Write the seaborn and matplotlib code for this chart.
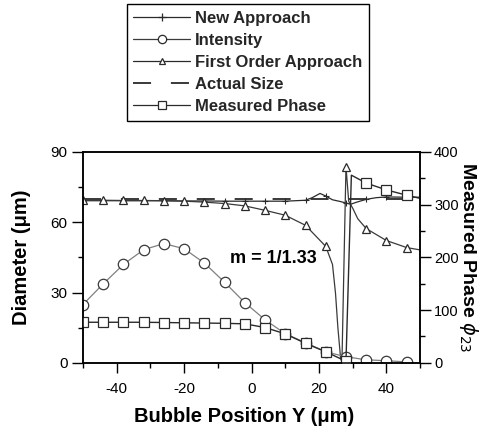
import matplotlib
matplotlib.use("Agg")
import matplotlib.pyplot as plt
from matplotlib.ticker import MultipleLocator
from matplotlib.lines import Line2D
import seaborn as sns

# ---------------- data ----------------
mark_x = [-50, -44, -38, -32, -26, -20, -14, -8, -2, 4, 10, 16, 22, 28, 34, 40, 46]

new_x = [-50, -44, -38, -32, -26, -20, -14, -8, -2, 4, 10, 16, 18, 20.3, 22, 24,
         26.5, 28, 29.4, 31, 34, 37, 40, 46, 50]
new_y = [69.2, 69.2, 69.2, 69.2, 69.2, 69.1, 69.1, 69.0, 69.0, 69.0, 69.0, 69.4, 70.5,
         72.3, 71.2, 69.6, 68.8, 68.2, 67.7, 68.5, 69.8, 70.5, 70.8, 70.7, 70.7]

int_x = [-50, -44, -38, -32, -26, -20, -14, -8, -2, 4, 10, 16, 22, 28, 34, 40, 46]
int_y = [24.9, 33.7, 42.0, 48.3, 50.9, 48.7, 42.6, 34.4, 25.7, 18.4, 12.4, 8.6, 4.7,
         2.6, 1.3, 0.9, 0.4]

foa_x = [-50, -44, -38, -32, -26, -20, -14, -8, -2, 4, 10, 16, 22, 24, 24.9, 25.6,
         26.4, 26.8, 28, 28.8, 30, 31.5, 34, 40, 46, 50]
foa_y = [69.5, 69.4, 69.3, 69.3, 69.2, 69.0, 68.6, 68.0, 67.0, 65.1, 63.0, 58.7, 49.7,
         42.0, 29.6, 15.0, 2.0, 0.3, 83.8, 69.0, 66.0, 61.5, 57.3, 52.2, 49.2, 48.2]

act_x = [-50, 50]
act_y = [69.8, 69.8]

mp_x = [-50, -44, -38, -32, -26, -20, -14, -8, -2, 4, 10, 16, 22, 28, 29.6, 34, 40, 46, 50]
mp_y = [77, 77, 77, 77, 76.5, 76, 75.5, 75, 74, 67, 55, 37, 21, 3, 356, 341, 328, 318, 312]

series_labels = ["New Approach", "Intensity", "First Order Approach", "Actual Size",
                 "Measured Phase"]
annot_text = "m = 1/1.33"


def marks(xs):
    return [i for i, v in enumerate(xs) if v in mark_x]


# ---------------- style ----------------
sns.set_theme(style="white")
plt.rcParams["font.family"] = ["Liberation Sans", "DejaVu Sans"]
plt.rcParams["axes.linewidth"] = 1.1
plt.rcParams["axes.unicode_minus"] = False

fig = plt.figure(figsize=(4.88, 4.33), dpi=100)
ax = fig.add_axes([0.170, 0.162, 0.691, 0.487])
ax2 = ax.twinx()

dark = "#2a2a2a"
common = dict(sort=False, estimator=None, markeredgewidth=0.9, markerfacecolor="white")

sns.lineplot(x=new_x, y=new_y, ax=ax, color=dark, linewidth=0.9, marker="+",
             markersize=5, markeredgecolor=dark, markevery=marks(new_x),
             sort=False, estimator=None, markeredgewidth=0.8)
sns.lineplot(x=act_x, y=act_y, ax=ax, color=dark, linewidth=1.3, dashes=False,
             sort=False, estimator=None)
ax.lines[-1].set_dashes([10, 11])
sns.lineplot(x=foa_x, y=foa_y, ax=ax, color="#3a3a3a", linewidth=0.9, marker="^",
             markersize=5.5, markeredgecolor=dark, markevery=marks(foa_x), **common)
sns.lineplot(x=int_x, y=int_y, ax=ax, color="#808080", linewidth=0.9, marker="o",
             markersize=7.5, markeredgecolor="#3a3a3a", markevery=marks(int_x), **common)
sns.lineplot(x=mp_x, y=mp_y, ax=ax2, color=dark, linewidth=1.0, marker="s",
             markersize=6.5, markeredgecolor=dark, markevery=marks(mp_x), **common)

# ---------------- axes ----------------
ax.set_xlim(-50, 50)
ax.set_ylim(0, 90)
ax2.set_ylim(0, 400)
ax.xaxis.set_major_locator(MultipleLocator(20))
ax.xaxis.set_minor_locator(MultipleLocator(10))
ax.yaxis.set_major_locator(MultipleLocator(30))
ax.yaxis.set_minor_locator(MultipleLocator(15))
ax2.yaxis.set_major_locator(MultipleLocator(100))
ax2.yaxis.set_minor_locator(MultipleLocator(50))

for a in (ax, ax2):
    for s in a.spines.values():
        s.set_visible(True)
        s.set_color("black")
        s.set_linewidth(1.1)

ax.tick_params(axis="x", which="major", direction="out", length=7, width=1.0,
               color="black", labelsize=11, pad=7, labelcolor="black", bottom=True)
ax.tick_params(axis="x", which="minor", direction="out", length=3.5, width=1.0,
               color="black", bottom=True)
ax.tick_params(axis="y", which="major", direction="out", length=8, width=1.0,
               color="black", labelsize=11, pad=3, labelcolor="black", left=True)
ax.tick_params(axis="y", which="minor", direction="out", length=3.5, width=1.0,
               color="black", left=True)
ax2.tick_params(axis="y", which="major", direction="out", length=8, width=1.0,
                color="black", labelsize=10.5, pad=2, labelcolor="black", right=True)
ax2.tick_params(axis="y", which="minor", direction="out", length=3.5, width=1.0,
                color="black", right=True)

ax.set_xlabel("Bubble Position Y (\u03bcm)", fontsize=14.5, fontweight="bold", color="black")
ax.set_ylabel("Diameter (\u03bcm)", fontsize=14.5, fontweight="bold", color="black")
ax2.set_ylabel(r"Measured Phase $\phi_{23}$", fontsize=14, fontweight="bold",
               color="black", rotation=-90, va="center")
ax.xaxis.set_label_coords(0.478, -0.21)
ax.yaxis.set_label_coords(-0.155, 0.5)
ax2.yaxis.set_label_coords(1.142, 0.5)

ax.text(6.5, 44.5, annot_text, fontsize=13, fontweight="bold", ha="center",
        va="center", color="black")

# ---------------- legend ----------------
handles = [
    Line2D([], [], color=dark, lw=0.9, marker="+", ms=6, mew=0.9),
    Line2D([], [], color="#3a3a3a", lw=0.9, marker="o", ms=6, mfc="white", mec=dark, mew=0.9),
    Line2D([], [], color=dark, lw=0.9, marker="^", ms=5, mfc="white", mec=dark, mew=0.9),
    Line2D([], [], color=dark, lw=1.3, dashes=[10, 11]),
    Line2D([], [], color=dark, lw=0.9, marker="s", ms=5.5, mfc="white", mec=dark, mew=0.9),
]
leg = fig.legend(handles, series_labels, loc="upper center", bbox_to_anchor=(0.508, 0.99),
                 prop={"weight": "bold", "size": 12}, frameon=True, fancybox=False,
                 edgecolor="black", framealpha=1, handlelength=3.4, labelspacing=0.42,
                 borderpad=0.4, handletextpad=0.3, borderaxespad=0)
leg.get_frame().set_linewidth(1.0)

fig.savefig("out.png", dpi=100)
